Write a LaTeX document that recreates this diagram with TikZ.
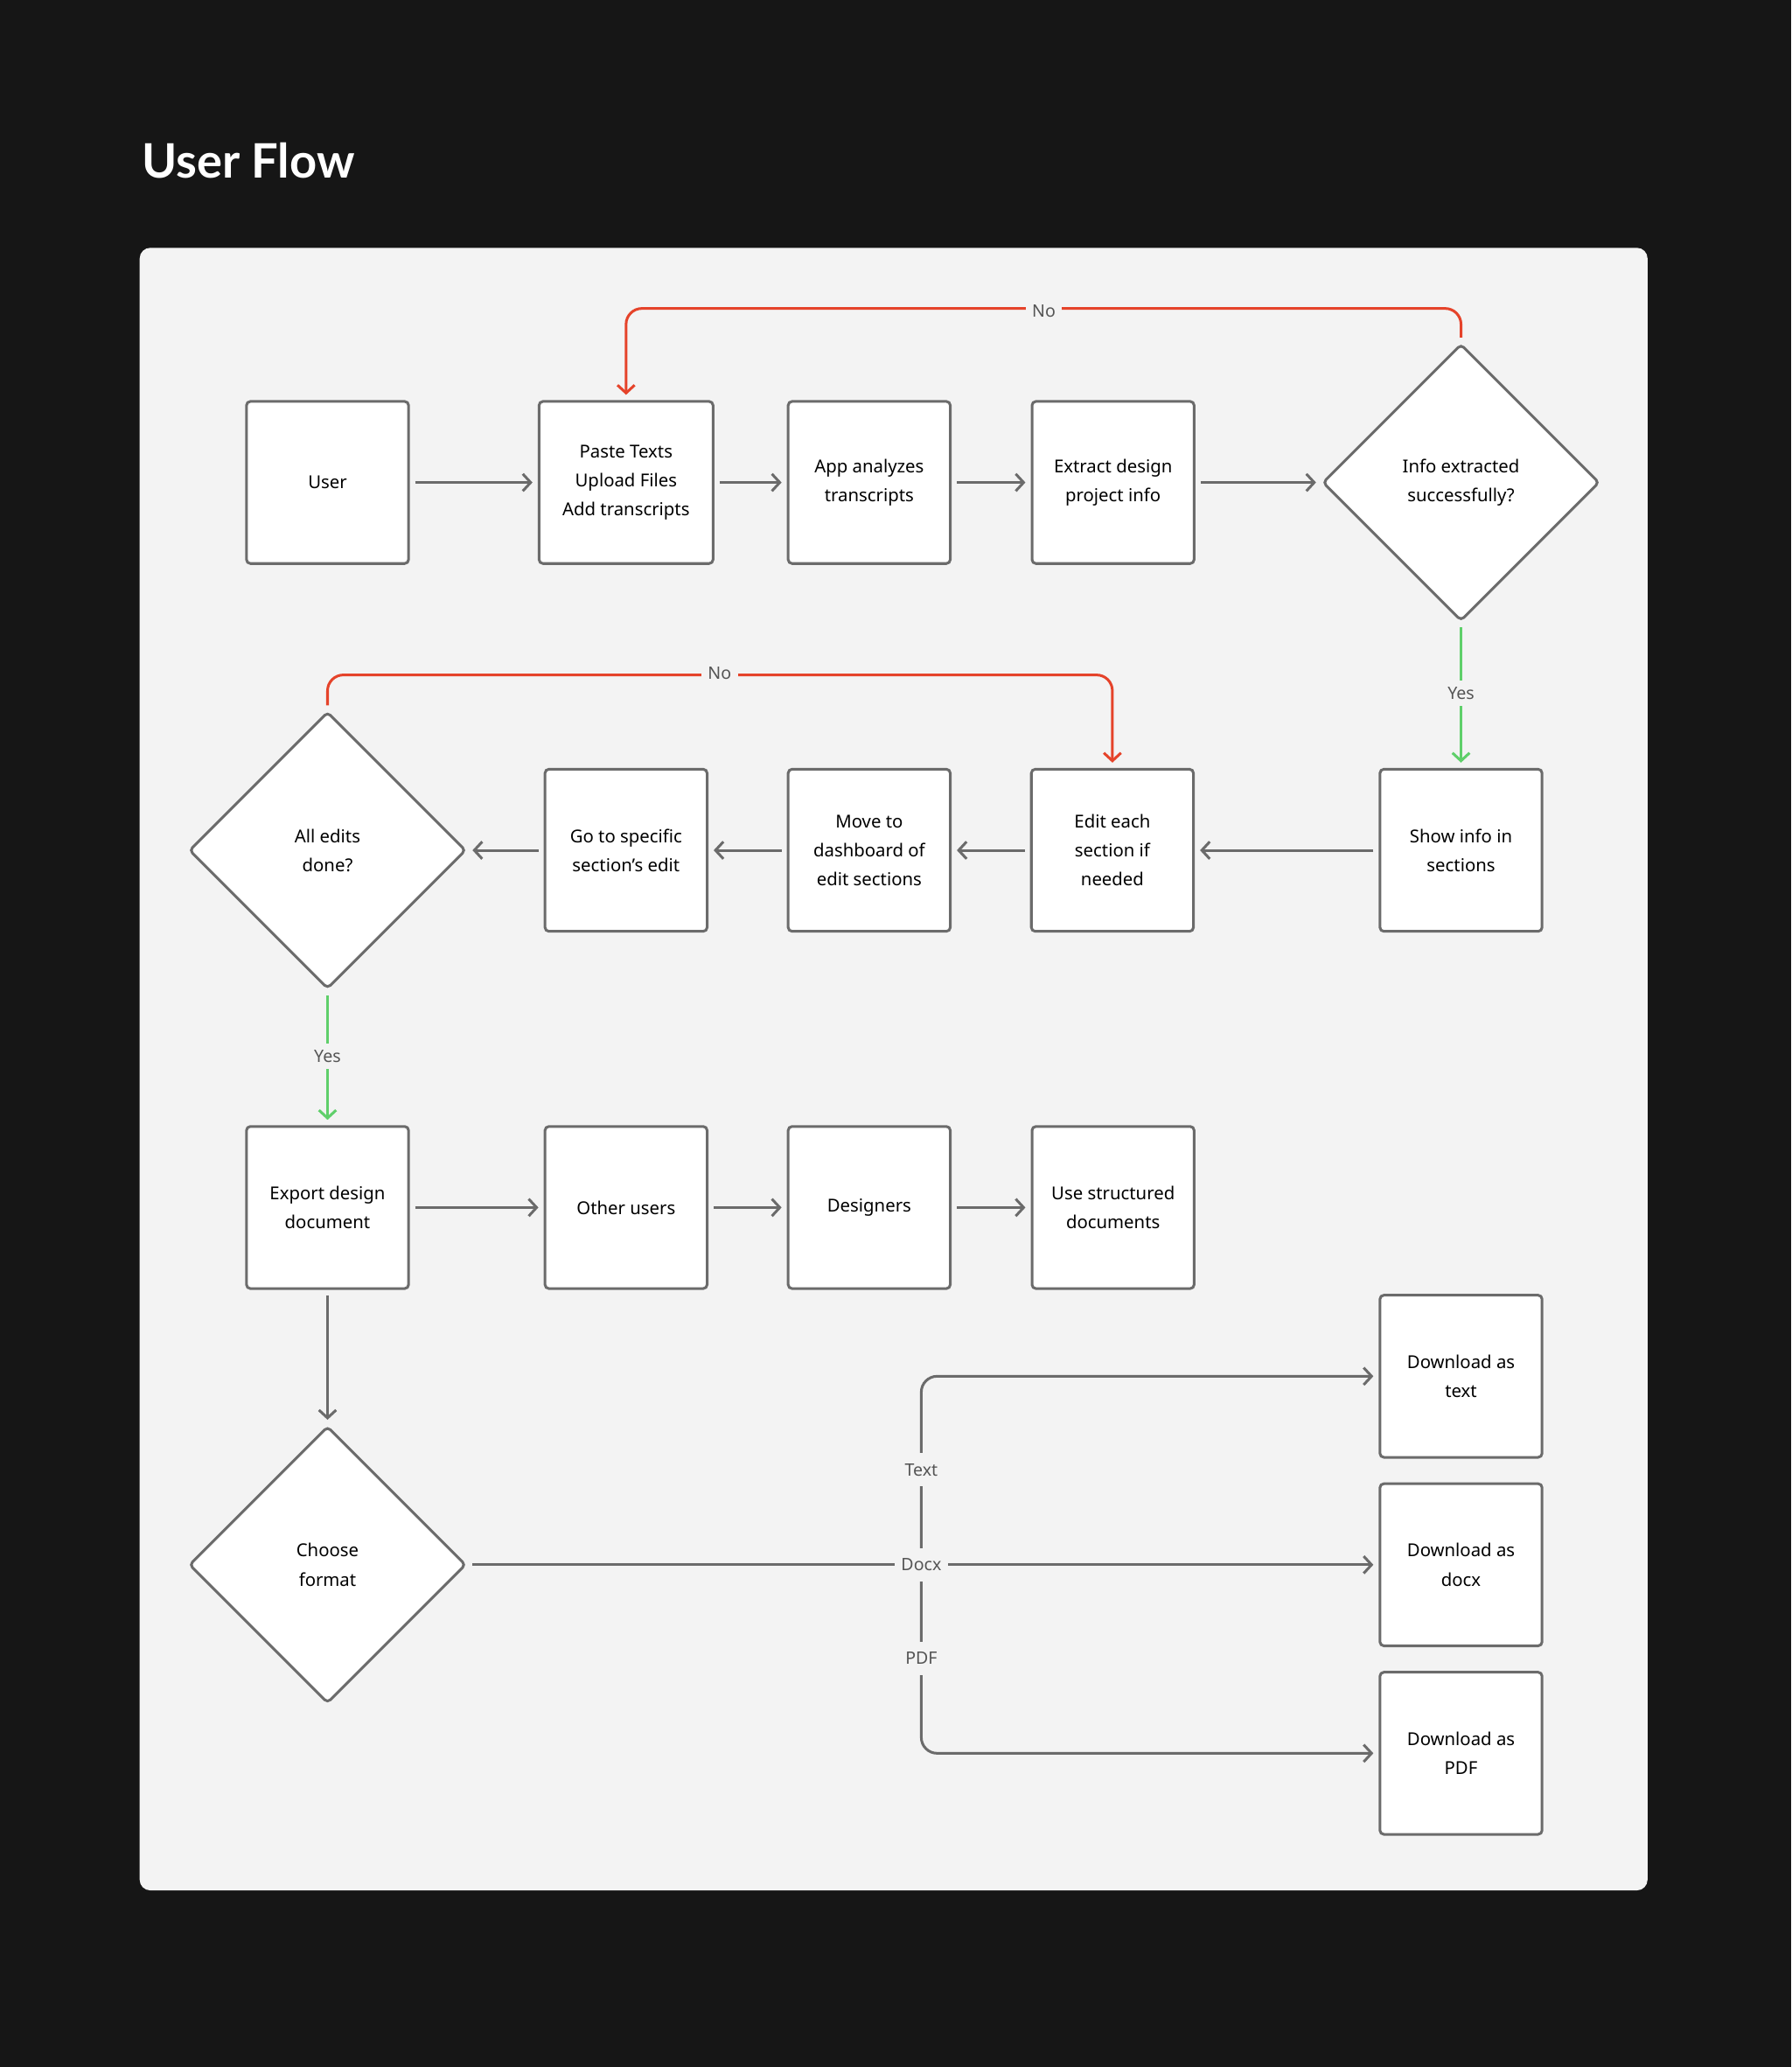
\documentclass[tikz,border=0pt]{standalone}
\usepackage{fontspec}
\setmainfont{Noto Sans}
\newfontfamily\titlefont{Lato}
\usetikzlibrary{arrows.meta,shapes.geometric}
\definecolor{bg}{HTML}{161616}
\definecolor{panel}{HTML}{F3F3F3}
\definecolor{edge}{HTML}{6B6B6B}
\definecolor{redc}{HTML}{E5432A}
\definecolor{greenc}{HTML}{5FCF6A}
\definecolor{lab}{HTML}{555555}
\begin{document}
\begin{tikzpicture}[x=1pt,y=-1pt,
  box/.style={draw=edge,line width=2pt,fill=white,rounded corners=3pt,minimum width=123pt,minimum height=123pt,align=center,font=\fontsize{13.5}{22}\selectfont,inner sep=0pt},
  dia/.style={draw=edge,line width=2pt,fill=white,diamond,rounded corners=3pt,minimum width=210pt,minimum height=210pt,align=center,font=\fontsize{13.5}{22}\selectfont,inner sep=0pt},
  arr/.style={draw=edge,line width=2pt,-{Straight Barb[length=6pt,width=13pt,line width=2pt]},shorten >=4pt,shorten <=4pt},
  redarr/.style={arr,draw=redc,rounded corners=12pt},
  grnarr/.style={arr,draw=greenc},
  lbl/.style={fill=panel,text=lab,font=\fontsize{13}{15}\selectfont,inner sep=5pt}
]
\fill[bg] (0,0) rectangle (1359,1568);
\fill[panel,rounded corners=8pt] (106,188) rectangle (1250,1434);
\node[anchor=west,text=white,font=\titlefont\fontsize{36}{40}\selectfont\bfseries] (title) at (104,122) {User Flow};
% row 1
\node[box] (user) at (248.5,366) {User};
\node[box,minimum width=132pt] (paste) at (475,366) {Paste Texts\\Upload Files\\Add transcripts};
\node[box] (app) at (659.5,366) {App analyzes\\transcripts};
\node[box] (extract) at (844.5,366) {Extract design\\project info};
\node[dia] (info) at (1108.5,366) {Info extracted\\successfully?};
% row 2
\node[box] (show) at (1108.5,645) {Show info in\\sections};
\node[box] (edit) at (844,645) {Edit each\\section if\\needed};
\node[box] (move) at (659.5,645) {Move to\\dashboard of\\edit sections};
\node[box] (go) at (475,645) {Go to specific\\section's edit};
\node[dia] (all) at (248.5,645) {All edits\\done?};
% row 3
\node[box] (export) at (248.5,916) {Export design\\document};
\node[box] (other) at (475,916) {Other users};
\node[box] (des) at (659.5,916) {Designers};
\node[box] (use) at (844.5,916) {Use structured\\documents};
\node[dia] (choose) at (248.5,1187) {Choose\\format};
\node[box] (dtext) at (1108.5,1044) {Download as\\text};
\node[box] (ddocx) at (1108.5,1187) {Download as\\docx};
\node[box] (dpdf) at (1108.5,1330) {Download as\\PDF};
% arrows row 1
\draw[arr] (user) -- (paste);
\draw[arr] (paste) -- (app);
\draw[arr] (app) -- (extract);
\draw[arr] (extract) -- (info.west);
\draw[redarr] (info.north) -- ++(0,-26) -| (paste.north);
\node[lbl] (no1) at (792,236) {No};
\draw[grnarr] (info.south) -- (show.north);
\node[lbl] (yes1) at (1108.5,526) {Yes};
% row 2
\draw[arr] (show) -- (edit);
\draw[arr] (edit) -- (move);
\draw[arr] (move) -- (go);
\draw[arr] (go) -- (all.east);
\draw[redarr] (all.north) -- ++(0,-27) -| (edit.north);
\node[lbl] (no2) at (546,511) {No};
\draw[grnarr] (all.south) -- (export.north);
\node[lbl] (yes2) at (248.5,801) {Yes};
% row 3
\draw[arr] (export) -- (other);
\draw[arr] (other) -- (des);
\draw[arr] (des) -- (use);
\draw[arr] (export) -- (choose.north);
% format branch
\coordinate (br) at (699,1187);
\draw[arr] (choose.east) -- (ddocx.west);
\draw[arr,rounded corners=12pt,shorten <=0pt] (br) |- (dtext.west);
\draw[arr,rounded corners=12pt,shorten <=0pt] (br) |- (dpdf.west);
\node[lbl,inner ysep=8pt] (ltext) at (699,1115) {Text};
\node[lbl,inner ysep=8pt] (ldocx) at (699,1187) {Docx};
\node[lbl,inner ysep=8pt] (lpdf) at (699,1258) {PDF};
\end{tikzpicture}
\end{document}
